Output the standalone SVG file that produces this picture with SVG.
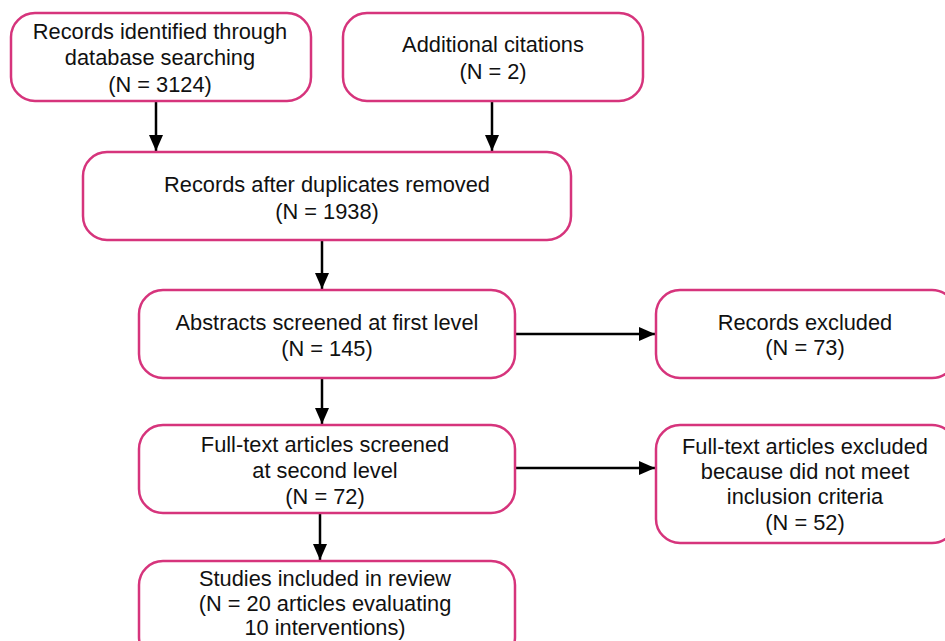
<svg xmlns="http://www.w3.org/2000/svg" width="945" height="641" viewBox="0 0 945 641">
<style>
.box{fill:#fff;stroke:#d6347c;stroke-width:2.5}
.t{font-family:"Liberation Sans",Arial,sans-serif;font-size:21.8px;fill:#111;text-anchor:middle}
.c{stroke:#000;stroke-width:2.5;fill:none}
</style>
<defs>
<marker id="a" viewBox="0 0 16 14" refX="16" refY="7" markerWidth="16" markerHeight="14" markerUnits="userSpaceOnUse" orient="auto"><path d="M0,0 L16,7 L0,14 z" fill="#000"/></marker>
</defs>
<rect width="945" height="641" fill="#fff"/>
<g id="connectors">
<line class="c" x1="156" y1="101" x2="156" y2="151" marker-end="url(#a)"/>
<line class="c" x1="492" y1="101" x2="492" y2="151" marker-end="url(#a)"/>
<line class="c" x1="322" y1="240" x2="322" y2="289" marker-end="url(#a)"/>
<line class="c" x1="322" y1="378" x2="322" y2="424" marker-end="url(#a)"/>
<line class="c" x1="320" y1="513" x2="320" y2="560" marker-end="url(#a)"/>
<line class="c" x1="515" y1="334" x2="655" y2="334" marker-end="url(#a)"/>
<line class="c" x1="515" y1="468" x2="655" y2="468" marker-end="url(#a)"/>
</g>
<g id="n1"><rect class="box" x="11" y="13" width="300" height="88" rx="24"/>
<text class="t" x="160" y="39">Records identified through</text>
<text class="t" x="160" y="65">database searching</text>
<text class="t" x="160" y="92">(N = 3124)</text></g>
<g id="n2"><rect class="box" x="343" y="13" width="300" height="88" rx="24"/>
<text class="t" x="493" y="52">Additional citations</text>
<text class="t" x="493" y="79">(N = 2)</text></g>
<g id="n3"><rect class="box" x="83" y="152" width="488" height="88" rx="24"/>
<text class="t" x="327" y="192">Records after duplicates removed</text>
<text class="t" x="327" y="219">(N = 1938)</text></g>
<g id="n4"><rect class="box" x="139" y="290" width="376" height="88" rx="24"/>
<text class="t" x="327" y="330">Abstracts screened at first level</text>
<text class="t" x="327" y="356">(N = 145)</text></g>
<g id="n5"><rect class="box" x="656" y="290" width="300" height="88" rx="24"/>
<text class="t" x="805" y="330">Records excluded</text>
<text class="t" x="805" y="355">(N = 73)</text></g>
<g id="n6"><rect class="box" x="139" y="425" width="376" height="88" rx="24"/>
<text class="t" x="325" y="452">Full-text articles screened</text>
<text class="t" x="325" y="478">at second level</text>
<text class="t" x="325" y="504">(N = 72)</text></g>
<g id="n7"><rect class="box" x="656" y="425" width="300" height="118" rx="24"/>
<text class="t" x="805" y="454">Full-text articles excluded</text>
<text class="t" x="805" y="479">because did not meet</text>
<text class="t" x="805" y="504">inclusion criteria</text>
<text class="t" x="805" y="530">(N = 52)</text></g>
<g id="n8"><rect class="box" x="139" y="561" width="376" height="100" rx="24"/>
<text class="t" x="325" y="586">Studies included in review</text>
<text class="t" x="325" y="611">(N = 20 articles evaluating</text>
<text class="t" x="325" y="635">10 interventions)</text></g>
</svg>
